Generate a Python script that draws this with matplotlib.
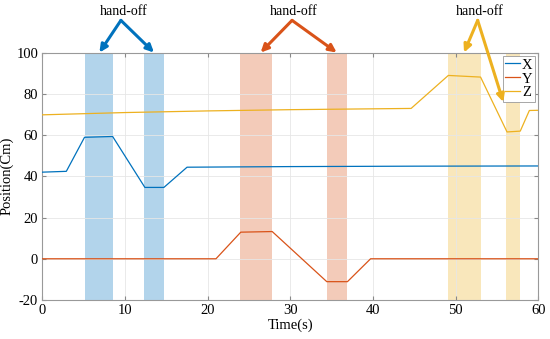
import matplotlib
matplotlib.use("Agg")
import matplotlib.pyplot as plt

plt.rcParams["font.family"] = ["Liberation Serif", "DejaVu Serif"]
plt.rcParams["axes.unicode_minus"] = False

# series (time in s, position in cm)
x_t = [0, 2.9, 5.1, 8.5, 12.4, 14.7, 17.5, 30, 45, 60]
x_v = [42, 42.4, 58.9, 59.3, 34.6, 34.6, 44.4, 44.7, 44.9, 45]

y_t = [0, 21.0, 24.0, 27.8, 34.4, 36.9, 39.7, 60]
y_v = [0, 0, 12.9, 13.2, -11.1, -11.1, 0, 0]

z_t = [0, 10, 20, 30, 44.6, 49.1, 53.0, 56.2, 57.8, 58.9, 60]
z_v = [69.8, 70.9, 71.7, 72.3, 72.9, 88.9, 88.1, 61.5, 61.9, 71.9, 72]

# hand-off windows (start, end) per series
x_windows = [(5.1, 8.55), (12.35, 14.7)]
y_windows = [(23.9, 27.8), (34.4, 36.9)]
z_windows = [(49.05, 53.0), (56.1, 57.75)]

labels = ["X", "Y", "Z"]
colors = ["#0072BD", "#D95319", "#EDB120"]

fig = plt.figure(figsize=(5.5, 3.39), dpi=100)
ax = fig.add_axes([0.077, 0.115, 0.902, 0.730])

for wins, c in zip([x_windows, y_windows, z_windows], colors):
    for a, b in wins:
        ax.axvspan(a, b, color=c, alpha=0.3, lw=0, zorder=1)

for (t, v), lab, c in zip([(x_t, x_v), (y_t, y_v), (z_t, z_v)], labels, colors):
    ax.plot(t, v, color=c, lw=0.9, label=lab, zorder=3)

ax.set_xlim(0, 60)
ax.set_ylim(-20, 100)
ax.set_xticks(range(0, 61, 10))
ax.set_yticks(range(-20, 101, 20))
ax.grid(True, color="#e6e6e6", lw=0.6, zorder=0)
ax.tick_params(direction="in", top=True, right=True, labelsize=10.5,
               color="#888888", length=3, pad=3)
for s in ax.spines.values():
    s.set_color("#999999")
    s.set_linewidth(0.8)
ax.set_xlabel("Time(s)", fontsize=10.5, labelpad=1)
ax.set_ylabel("Position(Cm)", fontsize=10.5)
ax.yaxis.set_label_coords(-0.057, 0.5)

leg = ax.legend(loc="upper right", fontsize=10.5, handlelength=1.0,
                handletextpad=0.15, borderpad=0.15, labelspacing=0.05,
                borderaxespad=0.25, fancybox=False, framealpha=1)
leg.get_frame().set_edgecolor("#999999")
leg.get_frame().set_linewidth(0.6)

# hand-off annotations: (colour, text x, apex x, [tips])
arrows = [
    (colors[0], 9.8, 9.5, [(6.9, 100), (13.5, 100)]),
    (colors[1], 30.4, 30.2, [(26.4, 100), (35.6, 100)]),
    (colors[2], 52.9, 52.65, [(51.0, 100), (55.75, 76)]),
]
for c, tx, ax_x, tips in arrows:
    ax.text(tx, 120.0, "hand-off", ha="center", va="center", fontsize=10,
            clip_on=False)
    for tip in tips:
        ax.annotate("", xy=tip, xytext=(ax_x, 115.6), annotation_clip=False,
                    zorder=10,
                    arrowprops=dict(arrowstyle="-|>,head_length=0.45,head_width=0.22",
                                    color=c, lw=2.2, shrinkA=0, shrinkB=0))

fig.savefig("out.png", dpi=100)
